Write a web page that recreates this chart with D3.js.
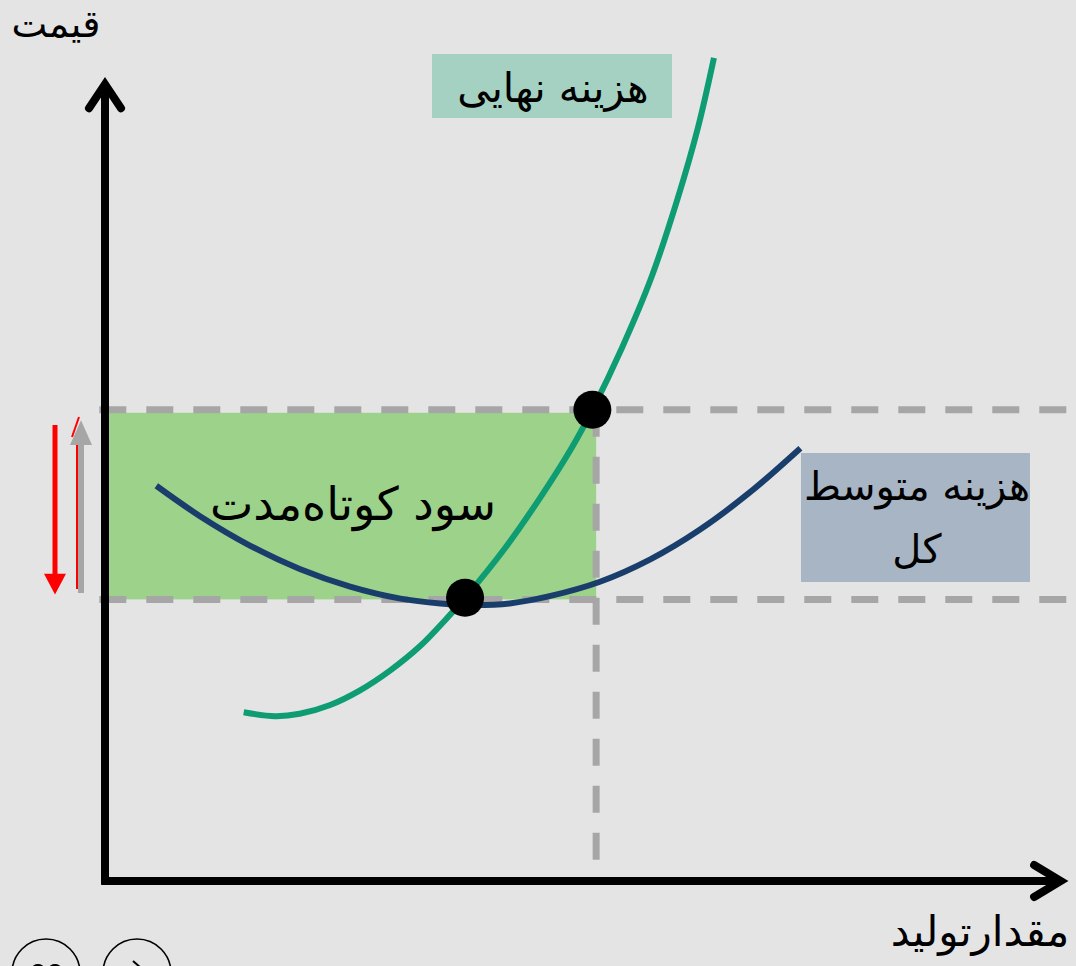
<!DOCTYPE html>
<html><head><meta charset="utf-8">
<script src="https://cdn.jsdelivr.net/npm/d3@7"></script>
<style>
html,body{margin:0;padding:0;background:#e4e4e4;}
svg{display:block;}
text{font-family:"DejaVu Sans",sans-serif;fill:#000;}
</style></head>
<body>
<script>
// ---- data (quantity q, price p) ----
const mcQ = [1.46,1.79,2.05,2.37,2.68,3.00,3.32,3.58,3.79,4.21,4.58,4.91,5.13,5.44,5.75,6.03,6.24,6.41];
const mcP = [2.11,2.06,2.09,2.20,2.38,2.63,2.94,3.26,3.54,4.16,4.79,5.41,5.89,6.66,7.54,8.54,9.41,10.29];
const atcQ = [0.54,1.00,1.53,2.05,2.58,3.11,3.53,3.89,4.26,4.68,5.21,5.74,6.26,6.79,7.32];
const atcP = [4.94,4.56,4.19,3.90,3.68,3.53,3.47,3.45,3.47,3.56,3.74,4.02,4.39,4.86,5.41];
const priceLevels = [5.89, 3.52];   // market price, min ATC
const qStar = [5.17];               // profit-maximising quantity
const eqPoints = [[5.13,5.89],[3.79,3.54]];
const labels = {
  yAxis: "قیمت",
  xAxis: "مقدارتولید",
  mc: "هزینه نهایی",
  atc: ["هزینه متوسط","کل"],
  profit: "سود کوتاه\u200cمدت"
};

const W = 1076, H = 966;
const svg = d3.select("body").append("svg").attr("width", W).attr("height", H);
svg.append("rect").attr("width", W).attr("height", H).attr("fill", "#e4e4e4");

const x = d3.scaleLinear().domain([0, 10]).range([105, 1055]);
const y = d3.scaleLinear().domain([0, 10]).range([881, 81]);

const grey = "#a6a6a6";

// profit rectangle
svg.append("rect")
  .attr("x", x(0) + 2).attr("y", y(priceLevels[0]) + 3)
  .attr("width", x(qStar[0]) - x(0) - 2)
  .attr("height", y(priceLevels[1]) - y(priceLevels[0]) - 3)
  .attr("fill", "#9dd28a");

// dashed horizontal price lines
svg.selectAll(".hdash").data(priceLevels).enter().append("line")
  .attr("x1", x(-0.06)).attr("x2", W)
  .attr("y1", d => y(d)).attr("y2", d => y(d))
  .attr("stroke", grey).attr("stroke-width", 7).attr("stroke-dasharray", "27,20");

// vertical dashed line
svg.selectAll(".vdash").data(qStar).enter().append("line")
  .attr("x1", d => x(d)).attr("x2", d => x(d))
  .attr("y1", y(priceLevels[0])).attr("y2", y(0))
  .attr("stroke", grey).attr("stroke-width", 7).attr("stroke-dasharray", "27,20");

// axes (no ticks)
const xAxis = d3.axisBottom(x).tickValues([]).tickSizeOuter(0);
const yAxis = d3.axisLeft(y).tickValues([]).tickSizeOuter(0);
svg.append("g").attr("transform", `translate(0,${y(0)})`).call(xAxis)
  .call(g => g.select(".domain").attr("stroke", "#000").attr("stroke-width", 8)
    .attr("d", `M${x(-0.04)},0H${x(10.05)}`));
svg.append("g").attr("transform", `translate(${x(0)},0)`).call(yAxis)
  .call(g => g.select(".domain").attr("stroke", "#000").attr("stroke-width", 8)
    .attr("d", `M0,${y(-0.04)}V${y(9.95)}`));
// arrow heads
svg.append("path").attr("d", `M${x(0)-16},${y(9.66)} L${x(0)},${y(9.96)} L${x(0)+16},${y(9.66)}`)
  .attr("fill", "none").attr("stroke", "#000").attr("stroke-width", 8)
  .attr("stroke-linecap", "round").attr("stroke-linejoin", "miter");
svg.append("path").attr("d", `M${x(9.78)},${y(0)-16} L${x(10.06)},${y(0)} L${x(9.78)},${y(0)+16}`)
  .attr("fill", "none").attr("stroke", "#000").attr("stroke-width", 8)
  .attr("stroke-linecap", "round").attr("stroke-linejoin", "miter");

// curves
const line = d3.line().x(d => x(d[0])).y(d => y(d[1])).curve(d3.curveCatmullRom.alpha(0.5));
svg.append("path").datum(atcQ.map((q, i) => [q, atcP[i]]))
  .attr("d", line).attr("fill", "none").attr("stroke", "#1a3e6b").attr("stroke-width", 6);
svg.append("path").datum(mcQ.map((q, i) => [q, mcP[i]]))
  .attr("d", line).attr("fill", "none").attr("stroke", "#0e9c72").attr("stroke-width", 6);

// equilibrium dots
svg.selectAll(".dot").data(eqPoints).enter().append("circle")
  .attr("cx", d => x(d[0])).attr("cy", d => y(d[1])).attr("r", 19).attr("fill", "#000");

// label boxes
svg.append("rect").attr("x", 432).attr("y", 54).attr("width", 240).attr("height", 64).attr("fill", "#a5d1c3");
svg.append("text").attr("x", 553).attr("y", 102).attr("text-anchor", "middle")
  .attr("font-size", 41).text(labels.mc);

svg.append("rect").attr("x", 801).attr("y", 453).attr("width", 229).attr("height", 129).attr("fill", "#a7b5c4");
svg.selectAll(".atcl").data(labels.atc).enter().append("text")
  .attr("x", 917).attr("y", (d, i) => 500 + i * 63).attr("text-anchor", "middle")
  .attr("font-size", 40).text(d => d);

// profit label
svg.append("text").attr("x", 353).attr("y", 520).attr("text-anchor", "middle")
  .attr("font-size", 46).text(labels.profit);

// axis titles
svg.append("text").attr("x", 56).attr("y", 37).attr("text-anchor", "middle")
  .attr("font-size", 38).text(labels.yAxis);
svg.append("text").attr("x", 980).attr("y", 946).attr("text-anchor", "middle")
  .attr("font-size", 42).text(labels.xAxis);

// left side arrows (price change indicators)
svg.append("line").attr("x1", 55).attr("x2", 55).attr("y1", y(5.7)).attr("y2", y(3.8))
  .attr("stroke", "#ff0000").attr("stroke-width", 5);
svg.append("path").attr("d", `M44,${y(3.84)} L66,${y(3.84)} L55,${y(3.58)} Z`).attr("fill", "#ff0000");
svg.append("line").attr("x1", 77).attr("x2", 77).attr("y1", y(3.65)).attr("y2", y(5.6))
  .attr("stroke", "#ff0000").attr("stroke-width", 2);
svg.append("path").attr("d", `M72,${y(5.55)} L79,${y(5.8)}`).attr("stroke", "#ff0000").attr("stroke-width", 2);
svg.append("line").attr("x1", 81).attr("x2", 81).attr("y1", y(3.6)).attr("y2", y(5.5))
  .attr("stroke", grey).attr("stroke-width", 6);
svg.append("path").attr("d", `M70,${y(5.45)} L92,${y(5.45)} L81,${y(5.76)} Z`).attr("fill", grey);

// bottom icons (partially visible)
const icons = [46, 137];
svg.selectAll(".icon").data(icons).enter().append("circle")
  .attr("cx", d => d).attr("cy", 973).attr("r", 34)
  .attr("fill", "none").attr("stroke", "#000").attr("stroke-width", 1.6);
svg.append("ellipse").attr("cx", 38).attr("cy", 968).attr("rx", 6).attr("ry", 4).attr("fill", "#000");
svg.append("ellipse").attr("cx", 55).attr("cy", 968).attr("rx", 6).attr("ry", 4).attr("fill", "#000");
svg.append("path").attr("d", "M133,961 L141,968").attr("stroke", "#000").attr("stroke-width", 2);
</script>
</body></html>
